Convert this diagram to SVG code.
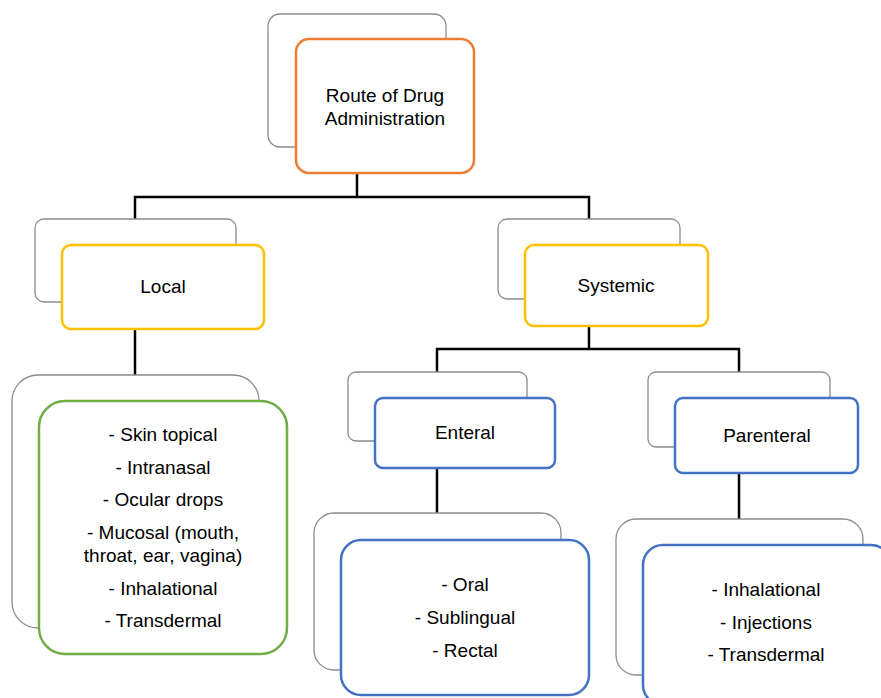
<svg xmlns="http://www.w3.org/2000/svg" width="881" height="698" viewBox="0 0 881 698">
<style>
.back{fill:#fff;stroke:#8c8c8c;stroke-width:1.3}
.front{fill:#fff;stroke-width:2.5}
.orange{stroke:#ed7d31}
.yellow{stroke:#ffc000}
.green{stroke:#70ad47}
.blue{stroke:#4472c4}
.conn{fill:none;stroke:#000;stroke-width:2.5}
text{font-family:"Liberation Sans",Arial,sans-serif;font-size:19px;fill:#000;text-anchor:middle}
</style>
<rect width="881" height="698" fill="#fff"/>
<g id="connectors">
<polyline class="conn" points="357,173 357,197"/>
<polyline class="conn" points="135,219 135,197 589,197 589,219"/>
<polyline class="conn" points="135,329 135,375"/>
<polyline class="conn" points="589,326 589,349"/>
<polyline class="conn" points="437,372 437,349 739,349 739,372"/>
<polyline class="conn" points="437,468 437,513"/>
<polyline class="conn" points="739,473 739,519"/>
</g>
<g id="route">
<rect class="back" x="268" y="14" width="178" height="133" rx="12"/>
<rect class="front orange" x="296" y="39" width="178" height="134" rx="13"/>
<text x="385" y="102">Route of Drug</text>
<text x="385" y="125">Administration</text>
</g>
<g id="local">
<rect class="back" x="35" y="219" width="201" height="83" rx="9"/>
<rect class="front yellow" x="62" y="245" width="202" height="84" rx="9"/>
<text x="163" y="293">Local</text>
</g>
<g id="systemic">
<rect class="back" x="498" y="219" width="182" height="80" rx="9"/>
<rect class="front yellow" x="525" y="245" width="183" height="81" rx="9"/>
<text x="616" y="292">Systemic</text>
</g>
<g id="local-list">
<rect class="back" x="12" y="375" width="247" height="253" rx="26"/>
<rect class="front green" x="39" y="401" width="248" height="253" rx="26"/>
<text x="163" y="441">- Skin topical</text>
<text x="163" y="474">- Intranasal</text>
<text x="163" y="506">- Ocular drops</text>
<text x="163" y="539">- Mucosal (mouth,</text>
<text x="163" y="562">throat, ear, vagina)</text>
<text x="163" y="595">- Inhalational</text>
<text x="163" y="627">- Transdermal</text>
</g>
<g id="enteral">
<rect class="back" x="348" y="372" width="179" height="69" rx="8"/>
<rect class="front blue" x="375" y="398" width="180" height="70" rx="8"/>
<text x="465" y="439">Enteral</text>
</g>
<g id="parenteral">
<rect class="back" x="648" y="372" width="182" height="75" rx="8"/>
<rect class="front blue" x="675" y="398" width="183" height="75" rx="8"/>
<text x="767" y="442">Parenteral</text>
</g>
<g id="enteral-list">
<rect class="back" x="314" y="513" width="247" height="157" rx="20"/>
<rect class="front blue" x="341" y="540" width="248" height="155" rx="20"/>
<text x="465" y="591">- Oral</text>
<text x="465" y="624">- Sublingual</text>
<text x="465" y="657">- Rectal</text>
</g>
<g id="parenteral-list">
<rect class="back" x="616" y="519" width="247" height="156" rx="20"/>
<rect class="front blue" x="643" y="545" width="248" height="160" rx="20"/>
<text x="766" y="596">- Inhalational</text>
<text x="766" y="629">- Injections</text>
<text x="766" y="661">- Transdermal</text>
</g>
</svg>
